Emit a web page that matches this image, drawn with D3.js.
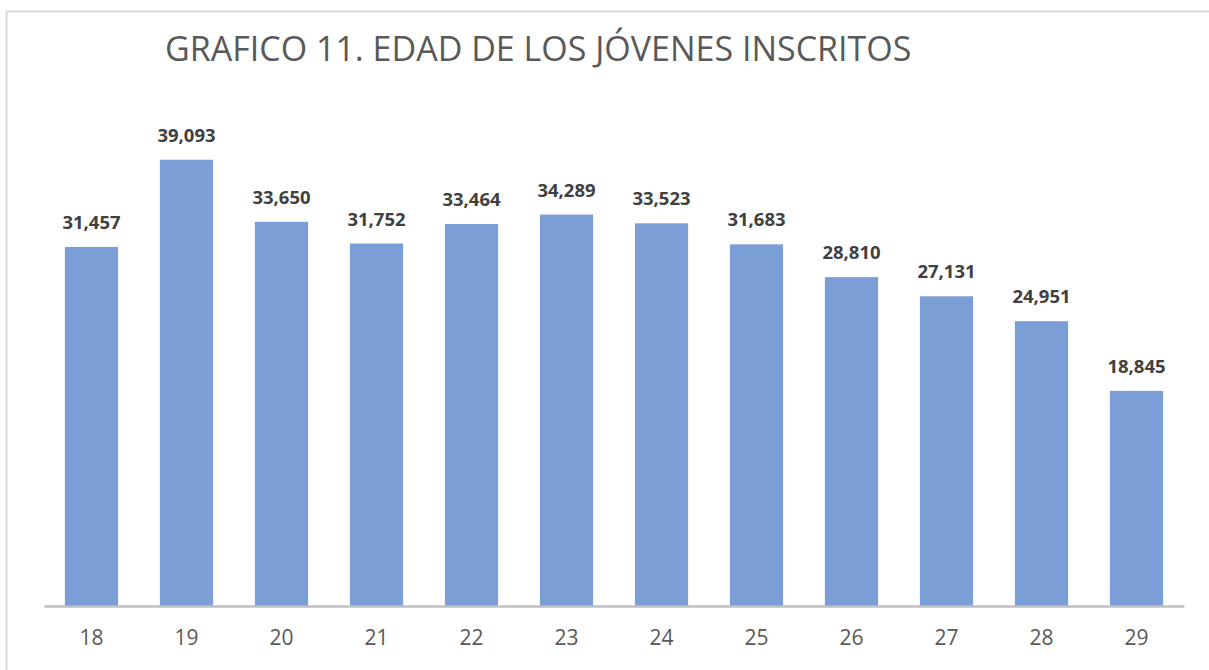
<!DOCTYPE html>
<html>
<head>
<meta charset="utf-8">
<script src="https://cdn.jsdelivr.net/npm/d3@7"></script>
<style>
  body { margin: 0; background: #fff; }
  svg { display: block; }
</style>
</head>
<body>
<svg id="grafico" width="1209" height="670"></svg>
<script>
// Datos del gráfico
var edades = ["18", "19", "20", "21", "22", "23", "24", "25", "26", "27", "28", "29"];
var inscritos = [31457, 39093, 33650, 31752, 33464, 34289, 33523, 31683, 28810, 27131, 24951, 18845];
var titulo = "GRAFICO 11. EDAD DE LOS JÓVENES INSCRITOS";

var svg = d3.select("#grafico");

// Marco del gráfico
svg.append("path")
    .attr("d", "M6.5,670 L6.5,11.5 L1209,11.5")
    .attr("fill", "none")
    .attr("stroke", "#d9d9d9")
    .attr("stroke-width", 2);

// Título
svg.append("text")
    .attr("x", 165)
    .attr("y", 61)
    .attr("font-family", "'Open Sans', sans-serif")
    .attr("font-size", 34)
    .attr("fill", "#595959")
    .text(titulo);

// Escalas
var x = d3.scaleBand()
    .domain(edades)
    .range([44, 1184])
    .paddingInner(0.44)
    .paddingOuter(0.22);

var y = d3.scaleLinear()
    .domain([0, 45000])
    .range([606, 92.3]);

var datos = edades.map(function(e, i) { return { edad: e, valor: inscritos[i] }; });

// Barras
svg.selectAll("rect.barra")
    .data(datos)
    .enter()
    .append("rect")
    .attr("class", "barra")
    .attr("x", function(d) { return x(d.edad); })
    .attr("y", function(d) { return y(d.valor); })
    .attr("width", x.bandwidth())
    .attr("height", function(d) { return y(0) - y(d.valor); })
    .attr("fill", "#7b9ed6");

// Etiquetas de valores
var formato = d3.format(",");
svg.selectAll("text.valor")
    .data(datos)
    .enter()
    .append("text")
    .attr("class", "valor")
    .attr("x", function(d) { return x(d.edad) + x.bandwidth() / 2; })
    .attr("y", function(d) { return y(d.valor) - 18; })
    .attr("text-anchor", "middle")
    .attr("font-family", "'Open Sans', sans-serif")
    .attr("font-weight", "bold")
    .attr("font-size", 18.5)
    .attr("fill", "#404040")
    .text(function(d) { return formato(d.valor); });

// Eje inferior
var eje = d3.axisBottom(x).tickSize(0).tickPadding(24);
var g = svg.append("g")
    .attr("transform", "translate(0,606)")
    .call(eje);
g.select(".domain")
    .attr("stroke", "#bfbfbf")
    .attr("stroke-width", 2.5);
g.selectAll(".tick text")
    .attr("font-family", "'Open Sans', sans-serif")
    .attr("font-size", 21)
    .attr("fill", "#595959");
</script>
</body>
</html>
